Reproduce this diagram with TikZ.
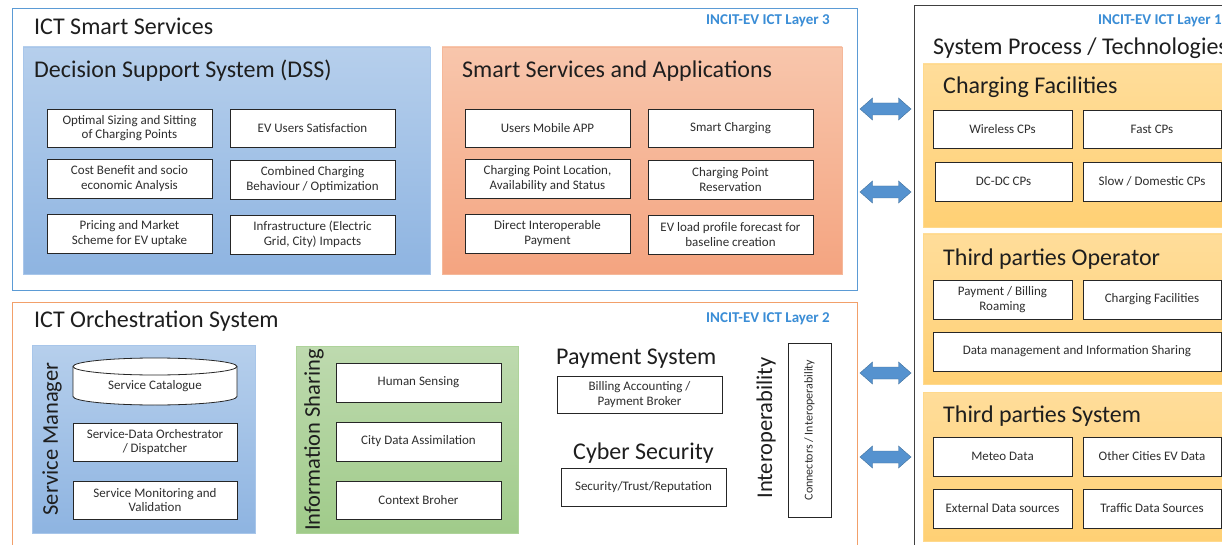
\documentclass[tikz,border=0pt]{standalone}
\usepackage{fontspec}
\setmainfont{Carlito}
\usetikzlibrary{shadows}
\definecolor{Lthree}{HTML}{5B9BD5}
\definecolor{Ltwo}{HTML}{F2A06A}
\definecolor{LayerBlue}{HTML}{3A8DD6}
\definecolor{DSStop}{HTML}{B6CFEC}
\definecolor{DSSbot}{HTML}{8EB4E1}
\definecolor{DSSedge}{HTML}{A8C6EA}
\definecolor{SSAtop}{HTML}{F8C6AC}
\definecolor{SSAbot}{HTML}{F4A480}
\definecolor{SSAedge}{HTML}{F5B89A}
\definecolor{GRtop}{HTML}{BEDAAF}
\definecolor{GRbot}{HTML}{A0CB8A}
\definecolor{GRedge}{HTML}{AED39A}
\definecolor{GDtop}{HTML}{FFDD9A}
\definecolor{GDbot}{HTML}{FFD074}
\definecolor{GDedge}{HTML}{FFD98C}
\definecolor{ArrFill}{HTML}{5592CF}
\definecolor{ArrEdge}{HTML}{41719C}
\definecolor{TextDark}{HTML}{1E1E1E}
\definecolor{BoxText}{HTML}{2E2E2E}
\newcommand\pnl[6]{\node[#6, inner sep=0pt, outer sep=0pt, minimum width={(#4-#2)*1pt}, minimum height={(#5-#3)*1pt}] (#1) at ({(#2+#4)/2},{(#3+#5)/2}) {};}
\newcommand\wb[7][wbox]{\node[#1, minimum width={(#5-#3)*1pt}, minimum height={(#6-#4)*1pt}] (#2) at ({(#3+#5)/2},{(#4+#6)/2}) {#7};}
\newcommand\barr[2]{\coordinate (#1) at (885.5,#2);
  \filldraw[fill=ArrFill, draw=ArrEdge, line width=0.4pt, shift={(#1)}]
    (-25.5,0) -- (-13,-11) -- (-13,-6) -- (13,-6) -- (13,-11) -- (25.5,0)
    -- (13,11) -- (13,6) -- (-13,6) -- (-13,11) -- cycle;}
\begin{document}
\begin{tikzpicture}[x=1pt,y=-1pt,
  wflat/.style={draw=black!85, line width=0.8pt, fill=white, align=center, inner sep=0pt, outer sep=0pt,
    font=\fontsize{13}{14.5}\selectfont, text=BoxText},
  wbox/.style={wflat, drop shadow={shadow xshift=0.9pt, shadow yshift=-0.9pt, opacity=0.35, fill=black}},
  ttl/.style={anchor=base west, inner sep=0pt, font=\fontsize{24}{28}\selectfont, text=TextDark},
  layer/.style={anchor=base west, inner sep=0pt, font=\fontsize{15}{18}\selectfont\bfseries, text=LayerBlue},
  rttl/.style={rotate=90, inner sep=0pt, font=\fontsize{22.5}{26}\selectfont, text=TextDark}
]
\clip (0,0) rectangle (1222,545);
\fill[white] (0,0) rectangle (1222,545);

% ---------------- Layer 3 ----------------
\pnl{Lthreebox}{12}{8}{857}{290}{draw=Lthree, line width=0.9pt}
\node[ttl] (tSmart) at (34,35) {ICT Smart Services};
\node[layer] (tL3) at (706,25) {INCIT-EV ICT Layer 3};

\pnl{dss}{23}{47}{430}{274}{top color=DSStop, bottom color=DSSbot, draw=DSSedge, line width=0.5pt}
\node[ttl] (tDSS) at (34,78) {Decision Support System (DSS)};
\wb{d11}{47}{109}{212}{147}{Optimal Sizing and Sitting\\of Charging Points}
\wb{d12}{230}{109}{395}{147}{EV Users Satisfaction}
\wb{d21}{47}{159}{212}{198}{Cost Benefit and socio\\economic Analysis}
\wb{d22}{230}{160}{395}{199}{Combined Charging\\Behaviour / Optimization}
\wb{d31}{47}{214}{212}{253}{Pricing and Market\\Scheme for EV uptake}
\wb{d32}{230}{215}{395}{254}{Infrastructure (Electric\\Grid, City) Impacts}

\pnl{ssa}{442}{47}{842}{274}{top color=SSAtop, bottom color=SSAbot, draw=SSAedge, line width=0.5pt}
\node[ttl] (tSSA) at (462,78) {Smart Services and Applications};
\wb{s11}{465}{109}{630}{147}{Users Mobile APP}
\wb{s12}{648}{109}{813}{147}{Smart Charging}
\wb{s21}{465}{159}{630}{198}{Charging Point Location,\\Availability and Status}
\wb{s22}{648}{160}{813}{199}{Charging Point\\Reservation}
\wb{s31}{465}{214}{630}{253}{Direct Interoperable\\Payment}
\wb{s32}{648}{215}{813}{254}{EV load profile forecast for\\baseline creation}

% ---------------- Layer 2 ----------------
\pnl{Ltwobox}{12}{302}{857}{560}{draw=Ltwo, line width=0.9pt}
\node[ttl] (tOrch) at (34,327) {ICT Orchestration System};
\node[layer] (tL2) at (706,322) {INCIT-EV ICT Layer 2};

\pnl{sm}{32}{345}{255}{533}{top color=DSStop, bottom color=DSSbot, draw=DSSedge, line width=0.5pt}
\node[rttl] (tSM) at (52,439) {Service Manager};
\draw[fill=white, draw=black!85, line width=0.8pt]
  (73,366.5) -- (73,396.5) arc[start angle=180, end angle=360, x radius=82pt, y radius=8.5pt]
  -- (237,366.5) arc[start angle=0, end angle=180, x radius=82pt, y radius=8.5pt] -- cycle;
\draw[draw=black!85, line width=0.8pt]
  (73,366.5) arc[start angle=180, end angle=360, x radius=82pt, y radius=8.5pt];
\node[inner sep=0pt, font=\fontsize{13}{14.5}\selectfont, text=BoxText] (cat) at (155,386) {Service Catalogue};
\wb{m2}{73}{423}{237}{461}{Service-Data Orchestrator\\/ Dispatcher}
\wb{m3}{73}{481}{237}{519}{Service Monitoring and\\Validation}

\pnl{is}{296}{346}{518}{533}{top color=GRtop, bottom color=GRbot, draw=GRedge, line width=0.5pt}
\node[rttl] (tIS) at (314,440) {Information Sharing};
\wb{i1}{336}{363}{501}{402}{Human Sensing}
\wb{i2}{336}{422}{501}{461}{City Data Assimilation}
\wb{i3}{336}{481}{501}{519}{Context Broher}

\node[ttl] (tPay) at (556,364) {Payment System};
\wb[wflat]{pay}{557}{376}{722}{413}{Billing Accounting /\\Payment Broker}
\node[ttl] (tCyber) at (573,459) {Cyber Security};
\wb[wflat]{sec}{561}{468}{726}{506}{Security/Trust/Reputation}
\node[rttl] (tInter) at (766,428) {Interoperability};
\wb[wflat]{conn}{788}{343}{831}{517}{}
\node[rotate=90, inner sep=0pt, font=\fontsize{12}{14}\selectfont, text=BoxText] (tConn) at (conn.center) {Connectors / Interoperability};

% ---------------- Layer 1 ----------------
\pnl{Lonebox}{914}{6}{1240}{560}{draw=black!75, line width=1pt}
\node[layer] (tL1) at (1098,25) {INCIT-EV ICT Layer 1};
\node[ttl] (tSys) at (933,55) {System Process / Technologies};

\pnl{cf}{923}{64}{1240}{227}{top color=GDtop, bottom color=GDbot, draw=GDedge, line width=0.5pt}
\node[ttl] (tCF) at (943,94) {Charging Facilities};
\wb{c11}{933}{110}{1072}{148}{Wireless CPs}
\wb{c12}{1083}{110}{1221}{148}{Fast CPs}
\wb{c21}{935}{162}{1072}{201}{DC-DC CPs}
\wb{c22}{1083}{162}{1221}{201}{Slow / Domestic CPs}

\pnl{tpo}{923}{234}{1240}{384}{top color=GDtop, bottom color=GDbot, draw=GDedge, line width=0.5pt}
\node[ttl] (tTPO) at (943,265) {Third parties Operator};
\wb{o11}{933}{280}{1072}{319}{Payment / Billing\\Roaming}
\wb{o12}{1083}{280}{1221}{319}{Charging Facilities}
\wb{o2}{933}{332}{1221}{371}{Data management and Information Sharing}

\pnl{tps}{923}{392}{1240}{541}{top color=GDtop, bottom color=GDbot, draw=GDedge, line width=0.5pt}
\node[ttl] (tTPS) at (943,422) {Third parties System};
\wb{t11}{933}{437}{1072}{476}{Meteo Data}
\wb{t12}{1083}{437}{1221}{476}{Other Cities EV Data}
\wb{t21}{933}{489}{1072}{528}{External Data sources}
\wb{t22}{1083}{489}{1221}{528}{Traffic Data Sources}

% ---------------- arrows ----------------
\barr{a1}{109}
\barr{a2}{192}
\barr{a3}{373}
\barr{a4}{457}
\end{tikzpicture}
\end{document}
